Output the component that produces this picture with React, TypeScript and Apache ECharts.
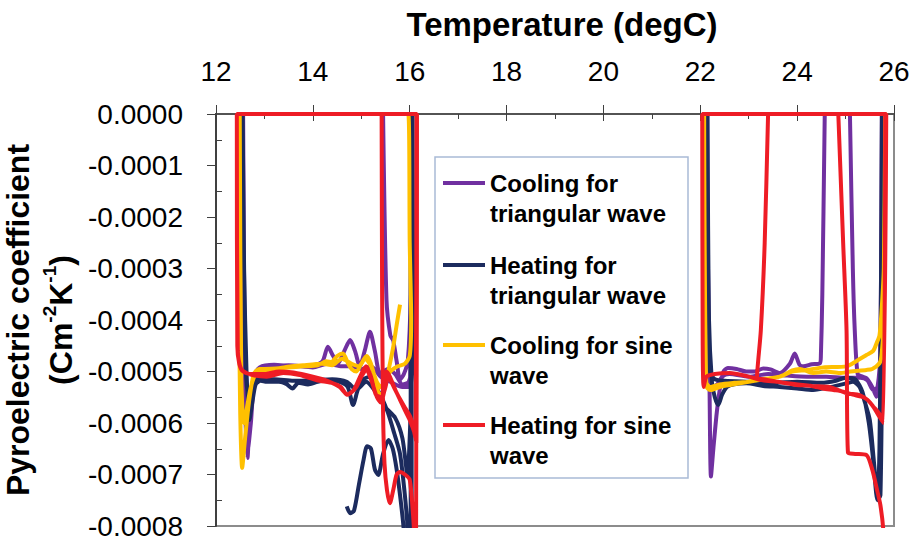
import React, { useEffect, useRef } from 'react';
import * as echarts from 'echarts';

const FONT = '"Liberation Sans", Arial, sans-serif';

const seriesNames = [
  'Cooling for triangular wave',
  'Heating for triangular wave',
  'Cooling for sine wave',
  'Heating for sine wave',
];
const legendLabels = [
  'Cooling for\ntriangular wave',
  'Heating for\ntriangular wave',
  'Cooling for sine\nwave',
  'Heating for sine\nwave',
];
const seriesColors = ['#7030A0', '#1C2B5E', '#FFC000', '#EE1C25'];

const xTickMin = 12;
const xTickMax = 26;
const xTickStep = 2;
const yTickMin = -0.0008;
const yTickMax = 0;
const yTickStep = 0.0001;

const GAP = ['-', '-'];

// Temperature (degC), pyroelectric coefficient (C m^-2 K^-1)
const coolingTriangular: any[] = [
  [15.45, 0], [15.52, -3.6e-4], [15.6, -4.3e-4], [15.66, -4.4e-4], [15.73, -4.8e-4], [15.8, -5.16e-4],
  [15.88, -5.05e-4], [15.96, -4.8e-4], [16.02, -3.5e-4], [16.04, 0],
  [16.03, -4.9e-4], [15.98, -5.2e-4], [15.85, -5.25e-4], [15.7, -5.05e-4], [15.55, -4.95e-4], [15.45, -5.0e-4],
  [15.38, -5.03e-4], [15.28, -4.6e-4], [15.18, -4.23e-4], [15.07, -4.6e-4], [14.97, -4.9e-4], [14.87, -4.6e-4],
  [14.77, -4.39e-4], [14.65, -4.6e-4], [14.52, -4.84e-4], [14.42, -4.7e-4], [14.31, -4.52e-4], [14.2, -4.8e-4],
  [14.0, -4.88e-4], [13.6, -4.9e-4], [13.2, -4.87e-4], [12.9, -4.92e-4], [12.78, -5.1e-4], [12.7, -5.8e-4],
  [12.65, -6.68e-4], [12.6, -5.6e-4], [12.57, -3.0e-4], [12.55, 0],
  [16.03, 0], [16.0, -5.3e-4], [15.85, -5.3e-4], [15.6, -5.2e-4], [15.4, -5.1e-4], [15.2, -4.9e-4], [15.0, -4.95e-4],
  [14.8, -4.9e-4], [14.6, -4.9e-4], [14.3, -4.85e-4], [14.0, -4.92e-4], [13.5, -4.88e-4], [13.0, -4.95e-4],
  [12.8, -5.2e-4], [12.72, -6.0e-4], [12.66, -6.5e-4], [12.6, -5.4e-4], [12.56, 0],
  GAP,
  [25.09, 0], [25.15, -3.0e-4], [25.19, -4.2e-4], [25.25, -5.05e-4], [25.35, -5.1e-4], [25.43, -5.13e-4],
  [25.55, -5.3e-4], [25.64, -5.49e-4], [25.7, -5.17e-4], [25.73, -3.5e-4], [25.75, 0],
  [25.72, -4.5e-4], [25.66, -5.3e-4], [25.57, -5.36e-4], [25.45, -5.17e-4], [25.3, -5.12e-4], [25.0, -5.12e-4],
  [24.6, -5.1e-4], [24.2, -5.1e-4], [23.8, -5.08e-4], [23.4, -5.05e-4], [23.0, -5.1e-4], [22.6, -5.05e-4],
  [22.45, -5.1e-4], [22.35, -5.25e-4], [22.25, -5.3e-4], [22.18, -5.1e-4], [22.14, 0],
  [24.57, 0], [24.52, -3.5e-4], [24.49, -4.7e-4], [24.47, -4.84e-4], [24.3, -4.86e-4], [24.13, -4.9e-4],
  [24.05, -4.87e-4], [23.95, -4.65e-4], [23.85, -4.85e-4], [23.64, -5.03e-4], [23.45, -4.96e-4], [23.3, -4.94e-4],
  [23.12, -5.0e-4], [22.95, -5.0e-4], [22.75, -4.95e-4], [22.57, -4.93e-4], [22.48, -5.0e-4], [22.41, -5.3e-4],
  [22.34, -5.8e-4], [22.27, -6.5e-4], [22.22, -7.04e-4], [22.19, -5.2e-4], [22.16, -3.0e-4], [22.14, 0],
];

const heatingTriangular: any[] = [
  [14.7, -7.62e-4], [14.77, -7.75e-4], [14.85, -7.7e-4], [14.95, -7.2e-4], [15.05, -6.7e-4], [15.12, -6.45e-4],
  [15.2, -6.5e-4], [15.28, -6.9e-4], [15.35, -7.01e-4], [15.45, -6.6e-4], [15.56, -6.33e-4], [15.65, -6.5e-4],
  [15.73, -6.9e-4], [15.8, -7.4e-4], [15.87, -8.0e-4], [15.92, -8.8e-4], [16.04, -9.0e-4], [16.04, 0],
  [12.54, 0], [12.58, -3.0e-4], [12.63, -5.0e-4], [12.69, -5.94e-4], [12.75, -5.6e-4], [12.82, -5.25e-4],
  [12.92, -5.18e-4], [13.05, -5.2e-4], [13.3, -5.2e-4], [13.45, -5.24e-4], [13.58, -5.33e-4], [13.7, -5.22e-4],
  [13.9, -5.25e-4], [14.1, -5.2e-4], [14.3, -5.17e-4], [14.55, -5.2e-4], [14.72, -5.3e-4], [14.83, -5.65e-4],
  [14.93, -5.35e-4], [15.05, -5.15e-4], [15.18, -5.1e-4], [15.3, -5.3e-4], [15.42, -5.5e-4], [15.55, -5.8e-4],
  [15.68, -6.2e-4], [15.8, -6.6e-4], [15.9, -7.4e-4], [15.96, -8.1e-4], [15.98, -9.0e-4], [16.02, -9.0e-4], [16.02, 0],
  [12.55, 0], [12.6, -4.5e-4], [12.66, -5.5e-4], [12.72, -5.4e-4], [12.85, -5.15e-4], [13.2, -5.15e-4],
  [13.6, -5.18e-4], [14.0, -5.17e-4], [14.4, -5.15e-4], [14.7, -5.2e-4], [14.9, -5.35e-4], [15.1, -5.2e-4],
  [15.3, -5.4e-4], [15.5, -5.7e-4], [15.7, -5.9e-4], [15.85, -6.3e-4], [15.95, -7.0e-4], [16.05, -5.0e-4],
  [16.07, -4.7e-4], [16.06, 0],
  GAP,
  [22.13, 0], [22.18, -4.0e-4], [22.24, -5.2e-4], [22.3, -5.5e-4], [22.37, -5.65e-4], [22.45, -5.45e-4],
  [22.55, -5.3e-4], [22.7, -5.25e-4], [22.95, -5.23e-4], [23.3, -5.28e-4], [23.64, -5.3e-4], [24.0, -5.33e-4],
  [24.33, -5.36e-4], [24.7, -5.3e-4], [25.02, -5.23e-4], [25.15, -5.2e-4], [25.29, -5.3e-4], [25.4, -5.6e-4],
  [25.5, -5.94e-4], [25.58, -6.7e-4], [25.66, -7.46e-4], [25.7, -6.5e-4], [25.73, -3.5e-4], [25.75, 0],
  [22.15, 0], [22.2, -5.0e-4], [22.3, -5.15e-4], [22.5, -5.18e-4], [23.0, -5.2e-4], [23.5, -5.22e-4],
  [24.0, -5.2e-4], [24.5, -5.22e-4], [24.8, -5.18e-4], [25.0, -5.12e-4], [25.2, -5.15e-4], [25.35, -5.4e-4],
  [25.48, -6.0e-4], [25.58, -6.8e-4], [25.66, -7.5e-4], [25.72, -7.4e-4], [25.76, -4.0e-4], [25.77, 0],
];

const coolingSine: any[] = [
  [15.8, -3.7e-4], [15.73, -4.1e-4], [15.66, -4.52e-4], [15.58, -4.9e-4], [15.52, -5.17e-4], [15.45, -5.4e-4],
  [15.38, -5.46e-4], [15.3, -5.2e-4], [15.2, -4.85e-4], [15.11, -4.7e-4], [15.0, -4.85e-4], [14.9, -5.0e-4],
  [14.8, -4.95e-4], [14.73, -4.85e-4], [14.62, -4.65e-4], [14.5, -4.7e-4], [14.38, -4.82e-4], [14.28, -4.8e-4],
  [14.1, -4.88e-4], [13.8, -4.9e-4], [13.4, -4.93e-4], [13.0, -4.95e-4], [12.89, -4.95e-4], [12.78, -5.05e-4],
  [12.68, -5.6e-4], [12.6, -6.3e-4], [12.54, -6.87e-4], [12.5, -5.8e-4], [12.48, -4.0e-4], [12.47, 0],
  [15.97, 0], [16.0, -2.5e-4], [16.03, -4.0e-4], [16.0, -4.7e-4], [15.9, -4.85e-4], [15.75, -4.9e-4],
  [15.6, -5.0e-4], [15.48, -5.2e-4], [15.4, -5.3e-4], [15.32, -5.2e-4], [15.2, -4.9e-4], [15.08, -4.75e-4],
  [14.95, -4.9e-4], [14.8, -4.85e-4], [14.6, -4.75e-4], [14.4, -4.88e-4], [14.2, -4.85e-4], [13.8, -4.88e-4],
  [13.4, -4.92e-4], [13.0, -4.98e-4], [12.85, -5.0e-4], [12.72, -5.3e-4], [12.62, -5.8e-4], [12.57, -6.0e-4],
  [12.52, -5.0e-4], [12.49, 0],
  GAP,
  [25.82, 0], [25.79, -3.0e-4], [25.74, -3.87e-4], [25.7, -4.3e-4], [25.64, -4.45e-4], [25.57, -4.6e-4],
  [25.43, -4.68e-4], [25.22, -4.8e-4], [25.02, -4.9e-4], [24.54, -4.92e-4], [24.2, -4.97e-4], [23.9, -5.0e-4],
  [23.64, -5.1e-4], [23.3, -5.15e-4], [23.0, -5.2e-4], [22.7, -5.25e-4], [22.4, -5.3e-4], [22.21, -5.36e-4],
  [22.13, -5.3e-4], [22.09, -4.0e-4], [22.07, 0],
  [25.83, 0], [25.79, -4.0e-4], [25.74, -4.7e-4], [25.7, -4.84e-4], [25.55, -4.95e-4], [25.43, -4.97e-4],
  [25.1, -5.0e-4], [24.88, -5.03e-4], [24.6, -5.0e-4], [24.33, -5.03e-4], [24.05, -4.95e-4], [23.9, -4.98e-4],
  [23.7, -5.08e-4], [23.5, -5.13e-4], [23.2, -5.15e-4], [23.0, -5.2e-4], [22.7, -5.22e-4], [22.4, -5.25e-4],
  [22.2, -5.3e-4], [22.12, -5.2e-4], [22.08, 0],
];

const heatingSine: any[] = [
  [15.42, 0], [15.43, -3.5e-4], [15.45, -5.8e-4], [15.48, -6.8e-4], [15.53, -7.3e-4], [15.59, -7.56e-4],
  [15.66, -7.3e-4], [15.73, -7.0e-4], [15.8, -6.95e-4], [15.9, -7.0e-4], [16.0, -7.1e-4], [16.07, -7.8e-4],
  [16.1, -8.3e-4], [16.13, -9.0e-4], [16.14, 0],
  [12.43, 0], [12.44, -4.5e-4], [12.48, -4.85e-4], [12.56, -5.0e-4], [12.8, -5.08e-4], [13.05, -5.1e-4],
  [13.39, -5.03e-4], [13.73, -5.07e-4], [14.08, -5.17e-4], [14.42, -5.23e-4], [14.58, -5.3e-4], [14.7, -5.45e-4],
  [14.8, -5.4e-4], [14.9, -5.3e-4], [15.0, -5.1e-4], [15.11, -4.97e-4], [15.2, -5.15e-4], [15.32, -5.49e-4],
  [15.4, -5.6e-4], [15.47, -5.4e-4], [15.52, -5.0e-4], [15.59, -5.1e-4], [15.7, -5.35e-4], [15.8, -5.55e-4],
  [15.9, -5.75e-4], [16.0, -5.94e-4], [16.1, -6.2e-4], [16.14, -6.39e-4], [16.15, 0],
  [12.43, 0], [12.45, -4.6e-4], [12.52, -4.95e-4], [12.7, -5.05e-4], [13.0, -5.05e-4], [13.3, -5.0e-4],
  [13.6, -5.02e-4], [14.0, -5.1e-4], [14.3, -5.18e-4], [14.55, -5.3e-4], [14.72, -5.45e-4], [14.85, -5.35e-4],
  [15.0, -5.05e-4], [15.1, -4.9e-4], [15.2, -5.1e-4], [15.3, -5.45e-4], [15.42, -5.5e-4], [15.5, -5.3e-4],
  [15.56, -5.05e-4], [15.62, -5.2e-4], [15.75, -5.45e-4], [15.9, -5.7e-4], [16.02, -5.9e-4], [16.12, -6.3e-4],
  [16.14, 0],
  GAP,
  [23.4, 0], [23.33, -2.5e-4], [23.25, -4.2e-4], [23.17, -5.13e-4], [23.3, -5.15e-4], [23.6, -5.2e-4],
  [23.9, -5.24e-4], [24.3, -5.28e-4], [24.67, -5.3e-4], [25.02, -5.42e-4], [25.29, -5.46e-4], [25.45, -5.55e-4],
  [25.57, -5.68e-4], [25.7, -5.88e-4], [25.78, -6.0e-4], [25.82, 0],
  [22.04, 0], [22.05, -4.5e-4], [22.07, -5.3e-4], [22.13, -5.1e-4], [22.3, -5.05e-4], [22.61, -5.03e-4],
  [23.0, -5.1e-4], [23.29, -5.17e-4], [23.6, -5.2e-4], [23.98, -5.26e-4], [24.3, -5.28e-4], [24.53, -5.33e-4],
  [24.75, -5.36e-4], [24.95, -5.39e-4], [25.15, -5.45e-4], [25.33, -5.49e-4], [25.45, -5.55e-4], [25.57, -5.68e-4],
  [25.68, -5.8e-4], [25.77, -5.94e-4], [25.84, 0],
  [24.85, 0], [24.95, -2.5e-4], [25.02, -4.2e-4], [25.05, -6.58e-4], [25.2, -6.6e-4], [25.43, -6.62e-4],
  [25.55, -6.9e-4], [25.65, -7.3e-4], [25.72, -7.6e-4], [25.78, -8.1e-4], [25.8, -9.0e-4],
];

const seriesData = [coolingTriangular, heatingTriangular, coolingSine, heatingSine];

export default function App() {
  const ref = useRef<HTMLDivElement>(null);

  useEffect(() => {
    if (!ref.current) return;
    const chart = echarts.init(ref.current, null, { renderer: 'svg' });

    const legendTop = [168, 250, 330, 410];
    const graphic: any[] = [
      {
        type: 'rect',
        z: 100,
        shape: { x: 435, y: 157, width: 253, height: 321 },
        style: { fill: '#ffffff', stroke: '#A9BAD6', lineWidth: 1.5 },
      },
    ];
    legendLabels.forEach((label, i) => {
      graphic.push({
        type: 'line',
        z: 101,
        shape: { x1: 443, y1: legendTop[i] + 15, x2: 485, y2: legendTop[i] + 15 },
        style: { stroke: seriesColors[i], lineWidth: 4 },
      });
      graphic.push({
        type: 'text',
        z: 101,
        x: 490,
        y: legendTop[i],
        style: {
          text: label,
          font: `bold 24px ${FONT}`,
          fill: '#000',
          align: 'left',
          verticalAlign: 'top',
          lineHeight: 30,
        },
      });
    });

    const option: any = {
      animation: false,
      backgroundColor: '#ffffff',
      grid: {
        left: 216,
        right: 20,
        top: 114,
        bottom: 14,
        show: true,
        borderColor: '#8c8c8c',
        borderWidth: 2,
        backgroundColor: 'transparent',
        containLabel: false,
        outerBoundsMode: 'none',
      },
      xAxis: [
        {
          type: 'value',
          position: 'top',
          min: xTickMin,
          max: xTickMax,
          interval: xTickStep,
          name: 'Temperature (degC)',
          nameLocation: 'middle',
          nameGap: 73,
          nameTextStyle: {
            fontSize: 33,
            fontWeight: 'bold',
            color: '#000',
            fontFamily: FONT,
            padding: [0, 0, 0, 14],
          },
          axisLine: { show: true, onZero: false, lineStyle: { color: '#404040', width: 1.5 } },
          axisTick: { show: true, length: 9, lineStyle: { color: '#404040', width: 1 } },
          axisLabel: { fontSize: 28, color: '#000', margin: 29, fontFamily: FONT },
          splitLine: { show: false },
        },
        {
          type: 'value',
          position: 'top',
          min: xTickMin,
          max: xTickMax,
          interval: xTickStep,
          axisLine: { show: false },
          axisTick: { show: true, inside: true, length: 7, lineStyle: { color: '#404040', width: 1 } },
          minorTick: { show: true, splitNumber: 2, length: 5, lineStyle: { color: '#404040', width: 1 } },
          axisLabel: { show: false },
          splitLine: { show: false },
        },
      ],
      yAxis: [
        {
          type: 'value',
          position: 'left',
          min: yTickMin,
          max: yTickMax,
          interval: yTickStep,
          name: '{t|Pyroelectric coefficient}\n{t|(Cm}{s|-2}{t|K}{s|-1}{t|)}',
          nameLocation: 'middle',
          nameRotate: 90,
          nameGap: 126,
          nameTextStyle: {
            color: '#000',
            fontFamily: FONT,
            rich: {
              t: { fontSize: 32, fontWeight: 'bold', lineHeight: 43, fontFamily: FONT, color: '#000' },
              s: { fontSize: 19, fontWeight: 'bold', lineHeight: 30, verticalAlign: 'top', fontFamily: FONT, color: '#000' },
            },
          },
          axisLine: { show: true, onZero: false, lineStyle: { color: '#404040', width: 2 } },
          axisTick: { show: true, length: 9, lineStyle: { color: '#404040', width: 1 } },
          axisLabel: {
            fontSize: 28,
            color: '#000',
            margin: 33,
            fontFamily: FONT,
            formatter: (v: number) => (Math.abs(v) < 1e-12 ? 0 : v).toFixed(4),
          },
          splitLine: { show: false },
        },
        {
          type: 'value',
          position: 'left',
          min: yTickMin,
          max: yTickMax,
          interval: yTickStep,
          axisLine: { show: false },
          axisTick: { show: false, inside: true },
          minorTick: { show: true, splitNumber: 2, length: 6, lineStyle: { color: '#404040', width: 1 } },
          axisLabel: { show: false },
          splitLine: { show: false },
        },
      ],
      series: seriesData.map((data, i) => ({
        type: 'line',
        name: seriesNames[i],
        xAxisIndex: 0,
        yAxisIndex: 0,
        data,
        showSymbol: false,
        symbol: 'none',
        smooth: 0.25,
        clip: true,
        connectNulls: false,
        lineStyle: { color: seriesColors[i], width: 4 },
        itemStyle: { color: seriesColors[i] },
        z: 2 + i,
      })),
      graphic,
    };

    chart.setOption(option);
    return () => chart.dispose();
  }, []);

  return (
    <div
      ref={ref}
      style={{ position: 'absolute', left: 0, top: 0, width: 914, height: 540, background: '#fff' }}
    />
  );
}
